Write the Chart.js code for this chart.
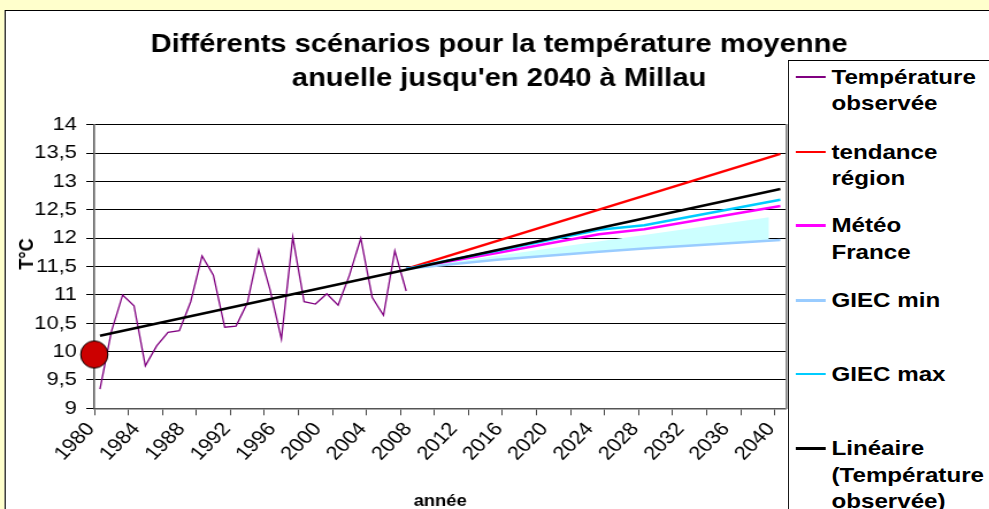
<!DOCTYPE html>
<html lang="fr">
<head>
<meta charset="UTF-8">
<title>Scénarios température Millau</title>
<script src="https://cdn.jsdelivr.net/npm/chart.js@4"></script>
<style>
  html, body { margin: 0; padding: 0; background: #FFFFCC; overflow: hidden; }
  #wrap { position: absolute; left: 0; top: 0; width: 860px; height: 509px; transform-origin: 0 0;
          font-family: 'Liberation Sans', Arial, sans-serif; }
  #box { position: absolute; left: 4px; top: 10px; width: 900px; height: 520px; background: #fff; border: 1.5px solid #000; }
  #chart { position: absolute; left: 0; top: 0; }
  #ytitle { position: absolute; left: 22.6px; top: 254px; font-weight: bold; font-size: 18px; line-height: 18px;
            white-space: nowrap; transform: translate(-50%, -50%) rotate(-90deg); }
  #legend { position: absolute; left: 685px; top: 60px; width: 300px; height: 480px; border: 1px solid #000; background: #fff; }
  .item { position: absolute; left: 0; font-weight: bold; font-size: 21px; line-height: 26.4px; color: #000; }
  .item i { position: absolute; left: 6px; top: 12px; width: 26px; }
  .item span { position: absolute; left: 37px; top: 0; white-space: nowrap; }
</style>
</head>
<body>
<div id="wrap">
  <div id="box"></div>
  <canvas id="chart" width="860" height="509"></canvas>
  <div id="ytitle">T°C</div>
  <div id="legend"></div>
</div>
<script>
// values
const obsYears = [1980, 1981, 1982, 1983, 1984, 1985, 1986, 1987, 1988, 1989, 1990, 1991, 1992, 1993,
                  1994, 1995, 1996, 1997, 1998, 1999, 2000, 2001, 2002, 2003, 2004, 2005, 2006, 2007];
const obsTemp = [9.34, 10.35, 11.0, 10.81, 9.75, 10.10, 10.34, 10.37, 10.88, 11.69, 11.35, 10.43, 10.45, 10.86,
                 11.79, 11.09, 10.22, 12.02, 10.88, 10.84, 11.02, 10.82, 11.35, 12.0, 10.96, 10.64, 11.78, 11.07];

const regionYears = [2007, 2040];
const regionTemp = [11.46, 13.49];

const projYears = [2007, 2015, 2024, 2028, 2040];
const meteoTemp = [11.46, 11.74, 12.07, 12.16, 12.57];
const giecMaxTemp = [11.46, 11.78, 12.15, 12.23, 12.68];
const giecMinTemp = [11.46, 11.62, 11.76, 11.82, 11.97];

const shadeYears = [2007, 2039];
const shadeTemp = [11.46, 12.37];

const trendYears = [1980, 2040];
const trendTemp = [10.28, 12.87];

const markerYear = [1979.5];
const markerTemp = [9.95];

const labelYears = [1980, 1984, 1988, 1992, 1996, 2000, 2004, 2008, 2012, 2016, 2020, 2024, 2028, 2032, 2036, 2040];
const tickMarkYears = [1979.5, 1982.5, 1985.5, 1988.5, 1991.5, 1994.5, 1997.5, 2000.5, 2003.5, 2006.5, 2009.5,
                       2012.5, 2015.5, 2018.5, 2021.5, 2024.5, 2027.5, 2030.5, 2033.5, 2036.5, 2039.5];

// the reference is stretched horizontally
const W = 860;
const S = 989 / W;
document.getElementById('wrap').style.transform = 'scaleX(' + S + ')';

const pts = (xs, ys) => xs.map((x, i) => ({x: x, y: ys[i]}));

// round red marker (pre-squeezed so it stays round after stretch)
const dot = document.createElement('canvas');
dot.width = Math.round(30 / S);
dot.height = 30;
const g = dot.getContext('2d');
g.beginPath();
g.ellipse(dot.width / 2, 15, 13.6 / S, 13.6, 0, 0, 2 * Math.PI);
g.fillStyle = '#CC0000';
g.fill();
g.lineWidth = 1;
g.strokeStyle = '#000';
g.stroke();

const series = [
  {label: ['Température', 'observée'], color: '#800080', width: 1.3, top: 75.7},
  {label: ['tendance', 'région'], color: '#FF0000', width: 2.5, top: 151},
  {label: ['Météo', 'France'], color: '#FF00FF', width: 2.5, top: 224.3},
  {label: ['GIEC min'], color: '#99CCFF', width: 2.5, top: 299.3},
  {label: ['GIEC max'], color: '#00CCFF', width: 2.5, top: 372.7},
  {label: ['Linéaire', '(Température', 'observée)'], color: '#000000', width: 2.5, top: 447.3}
];

const legend = document.getElementById('legend');
series.forEach(s => {
  const div = document.createElement('div');
  div.className = 'item';
  div.style.top = (s.top - 13.2 - 60) + 'px';
  div.innerHTML = '<i style="height:' + Math.max(s.width, 2) + 'px;background:' + s.color + '"></i><span>' + s.label.join('<br>') + '</span>';
  legend.appendChild(div);
});

const line = (data, s, extra) => Object.assign({
  data: data, borderColor: s.color, borderWidth: s.width, pointRadius: 0, fill: false, tension: 0
}, extra || {});

new Chart(document.getElementById('chart'), {
  type: 'line',
  data: {
    datasets: [
      {data: pts(markerYear, markerTemp), showLine: false, pointStyle: dot, pointRadius: 14, clip: false},
      line(pts(trendYears, trendTemp), series[5]),
      line(pts(projYears, giecMaxTemp), series[4]),
      line(pts(projYears, giecMinTemp), series[3]),
      line(pts(projYears, meteoTemp), series[2]),
      line(pts(regionYears, regionTemp), series[1]),
      line(pts(obsYears, obsTemp), series[0]),
      {data: pts(shadeYears, shadeTemp), borderWidth: 0, pointRadius: 0, fill: 3, backgroundColor: '#CCFFFF'}
    ]
  },
  options: {
    responsive: false,
    animation: false,
    devicePixelRatio: 1,
    font: {family: "'Liberation Sans', Arial, sans-serif"},
    layout: {padding: {left: 8}},
    plugins: {
      legend: {display: false},
      tooltip: {enabled: false},
      title: {
        display: true,
        text: ['Différents scénarios pour la température moyenne', "anuelle jusqu'en 2040 à Millau"],
        color: '#000',
        font: {size: 25.3, weight: 'bold', lineHeight: '34px'},
        padding: {top: 28, bottom: 28.9}
      }
    },
    scales: {
      x: {
        type: 'linear',
        min: 1979.5,
        max: 2040.5,
        afterBuildTicks: axis => {
          axis.ticks = tickMarkYears.concat(labelYears).sort((a, b) => a - b).map(v => ({value: v}));
        },
        afterFit: axis => { axis.height = 100.7; },
        ticks: {
          autoSkip: false, minRotation: 49, maxRotation: 49, padding: 3, labelOffset: -8,
          color: '#000', font: {size: 19},
          callback: v => labelYears.includes(v) ? String(v) : ''
        },
        grid: {
          drawOnChartArea: false, tickLength: 7, lineWidth: 1,
          color: c => (c.tick && tickMarkYears.includes(c.tick.value)) ? '#444' : 'rgba(0,0,0,0)'
        },
        border: {color: '#555', width: 1.5},
        title: {display: true, text: 'année', color: '#000', font: {size: 16, weight: 'bold'}, padding: {bottom: -2}}
      },
      y: {
        min: 9,
        max: 14,
        afterFit: axis => { axis.width = 74; },
        ticks: {
          stepSize: 0.5, padding: 8.2, color: '#000', font: {size: 19},
          callback: v => String(v).replace('.', ',')
        },
        grid: {color: '#000', lineWidth: 1, tickLength: 7},
        border: {color: '#555', width: 1.5}
      },
      yRight: {
        position: 'right',
        afterFit: axis => { axis.width = W - 683.5; },
        ticks: {display: false},
        grid: {drawOnChartArea: false, drawTicks: false, color: 'rgba(0,0,0,0)'},
        border: {color: '#909090', width: 2}
      }
    }
  }
});
</script>
</body>
</html>
